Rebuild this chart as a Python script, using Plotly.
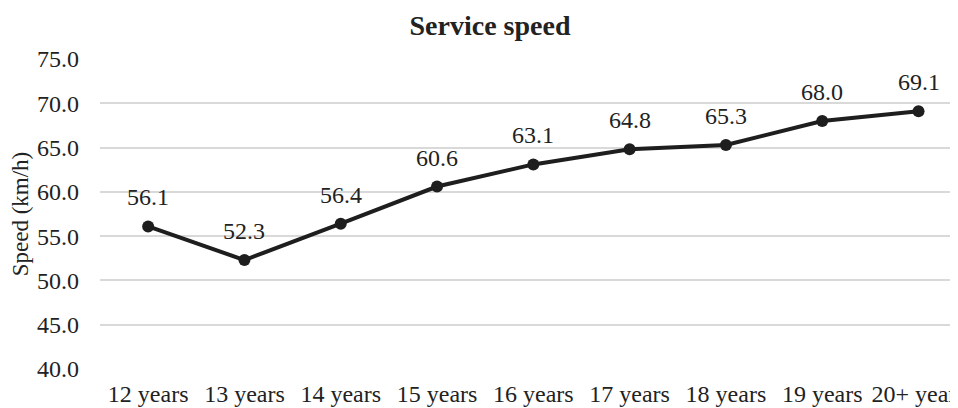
import plotly.graph_objects as go

categories = ["12 years", "13 years", "14 years", "15 years", "16 years",
              "17 years", "18 years", "19 years", "20+ years"]
speeds = [56.1, 52.3, 56.4, 60.6, 63.1, 64.8, 65.3, 68.0, 69.1]
y_ticks = [40, 45, 50, 55, 60, 65, 70, 75]

FONT = "Liberation Serif"
W, H = 950, 400  # page body has an 8px margin

fig = go.Figure()
fig.add_trace(go.Scatter(
    x=list(range(len(categories))), y=speeds, mode="lines+markers",
    line=dict(color="#1e1e1e", width=4),
    marker=dict(color="#1e1e1e", size=12),
    hoverinfo="skip", showlegend=False,
))

for i, v in enumerate(speeds):
    fig.add_annotation(x=i, y=v, text=f"{v:.1f}", showarrow=False,
                       yshift=29, font=dict(family=FONT, size=24, color="#222222"))

fig.update_layout(
    width=W, height=H,
    margin=dict(l=92, r=0, t=51, b=39),
    paper_bgcolor="white", plot_bgcolor="white",
    font=dict(family=FONT, size=24, color="#222222"),
    title=dict(text="<b>Service speed</b>", x=482/W, xanchor="center",
               y=1 - 17/H, yanchor="middle",
               font=dict(family=FONT, size=28, color="#222222")),
)
fig.update_xaxes(
    range=[-0.5, 8.41], tickmode="array",
    tickvals=list(range(len(categories))), ticktext=categories,
    showgrid=False, zeroline=False, showline=False, automargin=False,
    ticks="", ticklabelstandoff=8, ticklabeloverflow="allow",
    tickfont=dict(family=FONT, size=24, color="#222222"),
)
fig.update_yaxes(
    range=[40, 75], tickvals=y_ticks, tickformat=".1f",
    showgrid=True, gridcolor="#d9d9d9", gridwidth=1.5,
    zeroline=False, showline=False, automargin=False,
    ticks="", ticklabelstandoff=20,
    tickfont=dict(family=FONT, size=24, color="#222222"),
    title=dict(text="Speed (km/h)", standoff=4,
               font=dict(family=FONT, size=23, color="#222222")),
)

fig.write_html("out.html")
